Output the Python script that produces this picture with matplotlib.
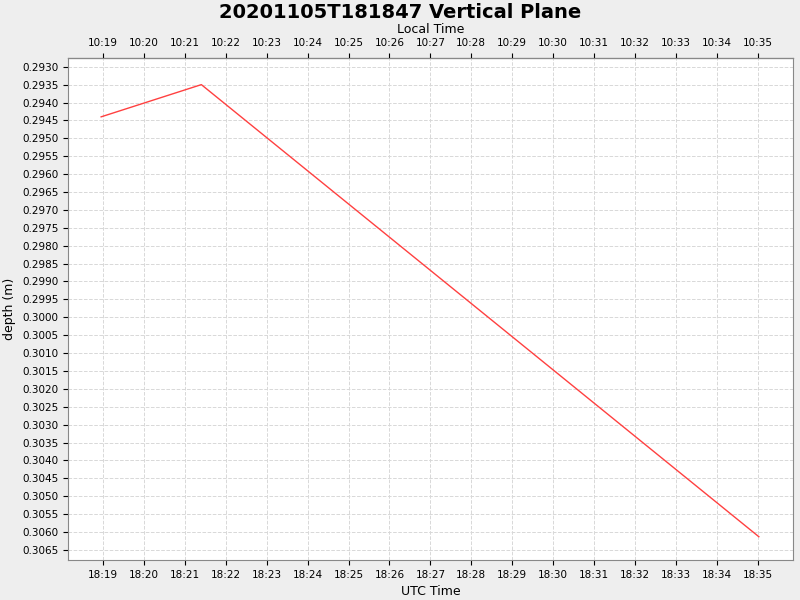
import matplotlib
matplotlib.use("Agg")
import matplotlib.pyplot as plt
from matplotlib.ticker import FixedLocator, FuncFormatter, MultipleLocator

# minutes after 18:00 UTC
utc_minutes = [18.95, 21.40, 35.03]
depth = [0.29440, 0.29350, 0.30613]
local_offset_h = -8

fig = plt.figure(figsize=(8, 6), dpi=100, facecolor="#eeeeee")
ax = fig.add_axes([0.085, 0.0667, 0.906, 0.837])
ax.set_facecolor("white")
ax.plot(utc_minutes, depth, color="#ff4040", lw=1)

ax.set_xlim(18.14, 35.86)
ax.set_ylim(0.30678, 0.29275)
ticks = list(range(19, 36))
ax.xaxis.set_major_locator(FixedLocator(ticks))
ax.xaxis.set_major_formatter(FuncFormatter(lambda v, p: f"18:{int(round(v)):02d}"))
ax.yaxis.set_major_locator(MultipleLocator(0.0005))
ax.yaxis.set_major_formatter(FuncFormatter(lambda v, p: f"{v:.4f}"))
ax.tick_params(labelsize=7.5)
ax.grid(True, color="#d8d8d8", ls="--", lw=0.7)
for s in ax.spines.values():
    s.set_color("#888888")
ax.set_xlabel("UTC Time", fontsize=9)
ax.set_ylabel("depth (m)", fontsize=9)

top = ax.secondary_xaxis("top")
top.xaxis.set_major_locator(FixedLocator(ticks))
top.xaxis.set_major_formatter(FuncFormatter(lambda v, p: f"{18 + local_offset_h}:{int(round(v)):02d}"))
top.tick_params(labelsize=7.5)
top.set_xlabel("Local Time", fontsize=9)

fig.suptitle("20201105T181847 Vertical Plane", fontsize=14, fontweight="bold", y=0.995)
fig.savefig("out.png", dpi=100, facecolor=fig.get_facecolor())
